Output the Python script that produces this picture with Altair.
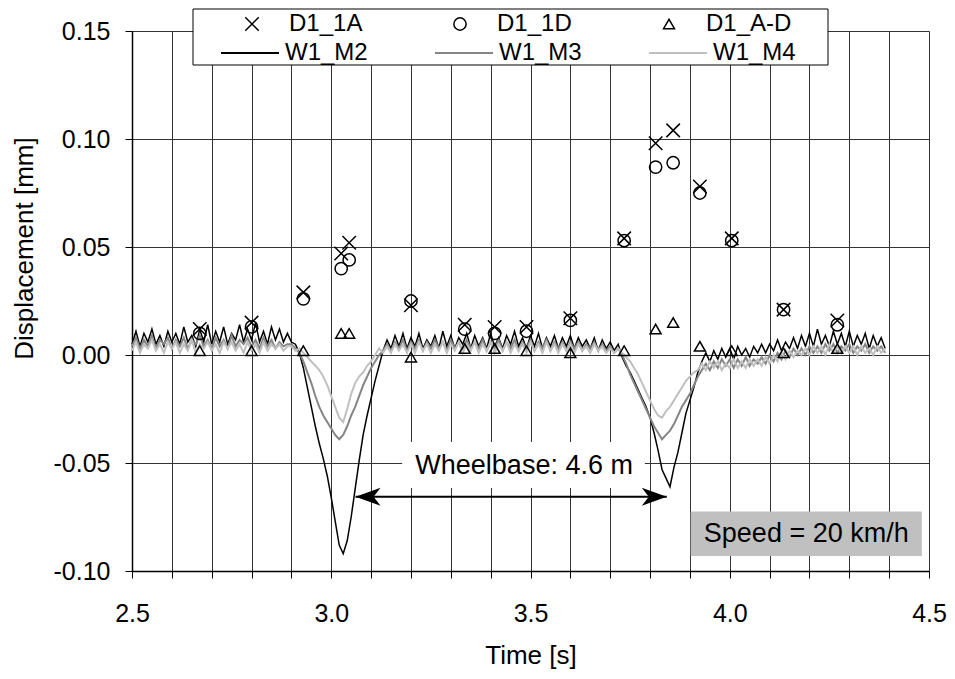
import altair as alt
import pandas as pd

# ---------------- data ----------------
T_START = 2.50
T_STEP = 0.01

W1_M2 = [
    0.005, 0.011, 0.004, 0.010, 0.006, 0.012, 0.005, 0.009, 0.004, 0.011,
    0.006, 0.010, 0.005, 0.013, 0.006, 0.009, 0.004, 0.012, 0.006, 0.014,
    0.005, 0.011, 0.006, 0.013, 0.005, 0.010, 0.007, 0.014, 0.006, 0.012,
    0.007, 0.015, 0.006, 0.011, 0.005, 0.013, 0.007, 0.012, 0.006, 0.010,
    0.006, 0.005, 0.001, -0.006, -0.015, -0.024, -0.033, -0.041, -0.048, -0.056,
    -0.066, -0.077, -0.088, -0.092, -0.086, -0.075, -0.062, -0.049, -0.037, -0.028,
    -0.020, -0.012, -0.005, 0.002, 0.007, 0.003, 0.009, 0.004, 0.010, 0.003,
    0.008, 0.004, 0.010, 0.003, 0.007, 0.004, 0.009, 0.003, 0.011, 0.004,
    0.009, 0.003, 0.008, 0.005, 0.010, 0.003, 0.009, 0.004, 0.008, 0.003,
    0.010, 0.004, 0.008, 0.003, 0.009, 0.005, 0.011, 0.004, 0.008, 0.003,
    0.009, 0.004, 0.010, 0.003, 0.008, 0.004, 0.009, 0.003, 0.008, 0.004,
    0.009, 0.003, 0.008, 0.004, 0.007, 0.003, 0.008, 0.002, 0.007, 0.003,
    0.006, 0.002, 0.005, -0.001, -0.005, -0.008, -0.012, -0.016, -0.020, -0.024,
    -0.029, -0.036, -0.044, -0.053, -0.057, -0.061, -0.052, -0.045, -0.036, -0.027,
    -0.021, -0.015, -0.008, -0.003, 0.001, -0.003, 0.002, -0.002, 0.003, -0.001,
    0.003, -0.002, 0.004, 0.000, 0.003, -0.001, 0.004, 0.001, 0.005, 0.001,
    0.005, 0.002, 0.007, 0.002, 0.006, 0.003, 0.008, 0.003, 0.009, 0.004,
    0.010, 0.004, 0.012, 0.005, 0.009, 0.004, 0.011, 0.005, 0.010, 0.004,
    0.011, 0.004, 0.009, 0.005, 0.010, 0.003, 0.009, 0.004, 0.008, 0.003,
]

W1_M3 = [
    0.004, 0.008, 0.003, 0.007, 0.004, 0.009, 0.003, 0.007, 0.005, 0.008,
    0.003, 0.007, 0.004, 0.008, 0.003, 0.007, 0.005, 0.009, 0.004, 0.007,
    0.003, 0.008, 0.004, 0.007, 0.003, 0.009, 0.004, 0.007, 0.005, 0.008,
    0.004, 0.007, 0.003, 0.008, 0.004, 0.007, 0.003, 0.006, 0.004, 0.005,
    0.005, 0.003, 0.001, -0.003, -0.008, -0.013, -0.019, -0.024, -0.028, -0.031,
    -0.034, -0.037, -0.039, -0.037, -0.033, -0.028, -0.024, -0.019, -0.014, -0.010,
    -0.006, -0.003, 0.000, 0.002, 0.005, 0.002, 0.006, 0.003, 0.007, 0.002,
    0.006, 0.003, 0.007, 0.002, 0.006, 0.003, 0.007, 0.003, 0.006, 0.002,
    0.007, 0.003, 0.006, 0.002, 0.007, 0.003, 0.006, 0.003, 0.007, 0.002,
    0.006, 0.003, 0.007, 0.002, 0.006, 0.003, 0.007, 0.002, 0.006, 0.003,
    0.007, 0.002, 0.006, 0.003, 0.007, 0.002, 0.006, 0.003, 0.006, 0.002,
    0.006, 0.003, 0.006, 0.002, 0.005, 0.003, 0.006, 0.002, 0.005, 0.002,
    0.004, 0.001, 0.003, 0.000, -0.004, -0.009, -0.013, -0.017, -0.021, -0.025,
    -0.029, -0.033, -0.036, -0.039, -0.037, -0.035, -0.032, -0.028, -0.024, -0.021,
    -0.018, -0.014, -0.010, -0.007, -0.004, -0.007, -0.003, -0.006, -0.002, -0.005,
    -0.002, -0.006, -0.002, -0.005, -0.001, -0.005, -0.002, -0.004, -0.001, -0.004,
    0.000, -0.003, 0.001, -0.002, 0.002, -0.001, 0.003, 0.000, 0.003, 0.000,
    0.004, 0.001, 0.004, 0.001, 0.005, 0.002, 0.005, 0.001, 0.004, 0.002,
    0.005, 0.001, 0.004, 0.002, 0.005, 0.001, 0.004, 0.002, 0.004, 0.001,
]

W1_M4 = [
    0.002, 0.006, 0.001, 0.005, 0.003, 0.007, 0.002, 0.005, 0.001, 0.006,
    0.003, 0.006, 0.001, 0.005, 0.002, 0.007, 0.001, 0.005, 0.003, 0.006,
    0.002, 0.005, 0.001, 0.006, 0.003, 0.006, 0.002, 0.005, 0.001, 0.006,
    0.002, 0.005, 0.001, 0.006, 0.002, 0.005, 0.003, 0.005, 0.002, 0.004,
    0.004, 0.002, 0.003, 0.001, -0.001, -0.003, -0.005, -0.007, -0.010, -0.014,
    -0.019, -0.024, -0.029, -0.031, -0.025, -0.018, -0.013, -0.010, -0.008, -0.005,
    -0.003, 0.000, 0.003, 0.001, 0.004, 0.001, 0.005, 0.002, 0.005, 0.001,
    0.005, 0.001, 0.006, 0.002, 0.005, 0.001, 0.005, 0.002, 0.006, 0.001,
    0.005, 0.002, 0.006, 0.001, 0.005, 0.002, 0.006, 0.001, 0.005, 0.002,
    0.006, 0.001, 0.005, 0.002, 0.006, 0.001, 0.005, 0.002, 0.005, 0.001,
    0.006, 0.002, 0.005, 0.001, 0.006, 0.002, 0.005, 0.001, 0.005, 0.002,
    0.005, 0.001, 0.005, 0.002, 0.004, 0.001, 0.005, 0.002, 0.004, 0.001,
    0.003, 0.001, 0.003, 0.001, -0.001, -0.003, -0.006, -0.009, -0.013, -0.017,
    -0.021, -0.025, -0.028, -0.029, -0.026, -0.024, -0.021, -0.018, -0.015, -0.012,
    -0.010, -0.008, -0.007, -0.004, -0.007, -0.003, -0.006, -0.003, -0.007, -0.004,
    -0.006, -0.002, -0.006, -0.003, -0.006, -0.002, -0.005, -0.002, -0.005, -0.001,
    -0.004, 0.000, -0.003, 0.001, -0.002, 0.002, -0.001, 0.002, 0.000, 0.003,
    0.000, 0.004, 0.001, 0.004, 0.000, 0.005, 0.001, 0.004, 0.001, 0.004,
    0.001, 0.004, 0.000, 0.004, 0.001, 0.003, 0.000, 0.004, 0.001, 0.003,
]

LINE_NAMES = ["W1_M2", "W1_M3", "W1_M4"]
LINE_COLORS = ["#000000", "#858585", "#c0c0c0"]
LINE_WIDTHS = [1.5, 2.0, 2.0]

PT_TIME = [2.67, 2.80, 2.93, 3.025, 3.045, 3.20, 3.335, 3.41, 3.49, 3.60,
           3.735, 3.814, 3.858, 3.925, 4.005, 4.135, 4.27]
D1_1A = [0.012, 0.015, 0.029, 0.047, 0.052, 0.023, 0.014, 0.013, 0.013, 0.017,
         0.054, 0.098, 0.104, 0.078, 0.054, 0.021, 0.016]
D1_1D = [0.010, 0.013, 0.026, 0.040, 0.044, 0.025, 0.012, 0.010, 0.011, 0.016,
         0.053, 0.087, 0.089, 0.075, 0.053, 0.021, 0.014]
D1_AD = [0.002, 0.002, 0.002, 0.010, 0.010, -0.001, 0.003, 0.003, 0.002, 0.001,
         0.002, 0.012, 0.015, 0.004, 0.002, 0.001, 0.003]
PT_NAMES = ["D1_1A", "D1_1D", "D1_A-D"]

X_TICKS = [2.5, 2.6, 2.7, 2.8, 2.9, 3.0, 3.1, 3.2, 3.3, 3.4, 3.5,
           3.6, 3.7, 3.8, 3.9, 4.0, 4.1, 4.2, 4.3, 4.4, 4.5]
Y_TICKS = [-0.10, -0.05, 0.00, 0.05, 0.10, 0.15]

# annotations (data coordinates)
WB_TEXT = "Wheelbase: 4.6 m"
WB_TEXT_T, WB_TEXT_V = 3.484, -0.0514
WB_BOX = (3.178, 3.787, -0.0403, -0.0616)
ARROW_T0, ARROW_T1, ARROW_V = 3.061, 3.842, -0.0656
SPEED_TEXT = "Speed = 20 km/h"
SPEED_TEXT_T, SPEED_TEXT_V = 4.192, -0.0829
SPEED_BOX = (3.902, 4.482, -0.0725, -0.093)

# ---------------- tables ----------------
rows = []
for name, vals in zip(LINE_NAMES, [W1_M2, W1_M3, W1_M4]):
    for i, v in enumerate(vals):
        rows.append({"t": round(T_START + i * T_STEP, 3), "v": v, "sensor": name})
df_lines = pd.DataFrame(rows)

prow = []
for name, vals in zip(PT_NAMES, [D1_1A, D1_1D, D1_AD]):
    for t, v in zip(PT_TIME, vals):
        prow.append({"t": t, "v": v, "series": name})
df_pts = pd.DataFrame(prow)

FONT = "Liberation Sans"

X_SCALE = alt.Scale(domain=[2.5, 4.5], nice=False, zero=False)
Y_SCALE = alt.Scale(domain=[-0.10, 0.15], nice=False, zero=False)

x_axis = alt.Axis(
    values=X_TICKS,
    labelExpr="abs(datum.value*2 - round(datum.value*2)) < 0.001 ? format(datum.value, '.1f') : ''",
    title="Time [s]", grid=True, gridColor="#333333", gridWidth=1,
    tickSize=7, tickColor="black", domainColor="black", domainWidth=1.5,
    labelFont=FONT, labelFontSize=25, labelColor="black", labelPadding=23,
    labelFlush=False, labelOverlap=False,
    titleFont=FONT, titleFontSize=26, titleFontWeight="normal", titleColor="black",
    titlePadding=16,
)
y_axis = alt.Axis(
    values=Y_TICKS,
    labelExpr="datum.value < -0.0001 ? '-' + format(abs(datum.value), '.2f') : format(abs(datum.value), '.2f')",
    title="Displacement [mm]", grid=True, gridColor="#333333", gridWidth=1,
    tickSize=7, tickColor="black", domainColor="black", domainWidth=1.5,
    labelFont=FONT, labelFontSize=25, labelColor="black", labelPadding=15,
    labelOverlap=False,
    titleFont=FONT, titleFontSize=26, titleFontWeight="normal", titleColor="black",
    titleX=-108, titleY=217, titleBaseline="middle",
)

X = lambda f: alt.X(f, type="quantitative", scale=X_SCALE, axis=x_axis)
Y = lambda f: alt.Y(f, type="quantitative", scale=Y_SCALE, axis=y_axis)

LEG_FONT_SIZE = 24

line_legend = alt.Legend(
    title=None, orient="none", legendX=88, legendY=-8, direction="horizontal",
    symbolType="stroke", symbolSize=3364, symbolStrokeWidth=1.8,
    labelOffset=5, columnPadding=63, padding=0,
    labelFont=FONT, labelFontSize=LEG_FONT_SIZE, labelColor="black", labelLimit=400,
)
stroke_enc = alt.Stroke("sensor:N", scale=alt.Scale(domain=LINE_NAMES, range=LINE_COLORS),
                        legend=line_legend)

line_layers = [
    alt.Chart(df_lines[df_lines.sensor == name]).mark_line(strokeWidth=w)
    .encode(x=X("t"), y=Y("v"), stroke=stroke_enc, order="t:Q")
    for name, w in zip(LINE_NAMES, LINE_WIDTHS)
]

X_PATH = "M-1,-1L1,1M-1,1L1,-1"
pt_legend = alt.Legend(
    title=None, orient="none", legendX=108, legendY=-19, direction="horizontal",
    labelOffset=25, columnPadding=85, padding=0,
    symbolStrokeColor="black", symbolStrokeWidth=1.5, symbolFillColor="transparent",
    labelFont=FONT, labelFontSize=LEG_FONT_SIZE, labelColor="black", labelLimit=400,
)
points = alt.Chart(df_pts).mark_point(filled=False, strokeWidth=1.5, color="black", opacity=1).encode(
    x=X("t"), y=Y("v"),
    shape=alt.Shape("series:N", scale=alt.Scale(domain=PT_NAMES, range=[X_PATH, "circle", "triangle-up"]),
                    legend=pt_legend),
    size=alt.Size("series:N", scale=alt.Scale(domain=PT_NAMES, range=[182, 120, 200]), legend=pt_legend),
)

one = pd.DataFrame({"k": [0]})

wb_box = alt.Chart(pd.DataFrame({"x": [WB_BOX[0]], "x2": [WB_BOX[1]], "y": [WB_BOX[2]], "y2": [WB_BOX[3]]})) \
    .mark_rect(fill="white").encode(x=X("x"), x2="x2", y=Y("y"), y2="y2")
wb_text = alt.Chart(pd.DataFrame({"x": [WB_TEXT_T], "y": [WB_TEXT_V], "s": [WB_TEXT]})) \
    .mark_text(font=FONT, fontSize=27, color="black", align="center", baseline="middle") \
    .encode(x=X("x"), y=Y("y"), text="s:N")

arrow_line = alt.Chart(pd.DataFrame({"x": [ARROW_T0], "x2": [ARROW_T1], "y": [ARROW_V]})) \
    .mark_rule(strokeWidth=2, color="black").encode(x=X("x"), x2="x2", y=Y("y"))
LEFT_HEAD = "M0,0L1,-0.36L0.72,0L1,0.36Z"
RIGHT_HEAD = "M0,0L-1,-0.36L-0.72,0L-1,0.36Z"
arrow_l = alt.Chart(pd.DataFrame({"x": [ARROW_T0], "y": [ARROW_V]})) \
    .mark_point(shape=LEFT_HEAD, filled=True, size=2500, color="black", opacity=1) \
    .encode(x=X("x"), y=Y("y"))
arrow_r = alt.Chart(pd.DataFrame({"x": [ARROW_T1], "y": [ARROW_V]})) \
    .mark_point(shape=RIGHT_HEAD, filled=True, size=2500, color="black", opacity=1) \
    .encode(x=X("x"), y=Y("y"))

sp_box = alt.Chart(pd.DataFrame({"x": [SPEED_BOX[0]], "x2": [SPEED_BOX[1]], "y": [SPEED_BOX[2]], "y2": [SPEED_BOX[3]]})) \
    .mark_rect(fill="#c0c0c0").encode(x=X("x"), x2="x2", y=Y("y"), y2="y2")
sp_text = alt.Chart(pd.DataFrame({"x": [SPEED_TEXT_T], "y": [SPEED_TEXT_V], "s": [SPEED_TEXT]})) \
    .mark_text(font=FONT, fontSize=27, color="black", align="center", baseline="middle") \
    .encode(x=X("x"), y=Y("y"), text="s:N")

legend_frame = alt.Chart(one).mark_rect(fill="white", stroke="black", strokeWidth=1).encode(
    x=alt.value(61), x2=alt.value(696), y=alt.value(-22), y2=alt.value(34)
)

chart = alt.layer(
    wb_box, sp_box, *line_layers, points, arrow_line, arrow_l, arrow_r, wb_text, sp_text, legend_frame
).properties(
    width=797, height=540,
    padding={"left": 124, "top": 23, "right": 18, "bottom": 100},
    autosize=alt.AutoSizeParams(type="none"),
    background="white",
).configure_view(stroke="transparent")

chart.save("out.html", embed_options={"renderer": "svg", "actions": False})
